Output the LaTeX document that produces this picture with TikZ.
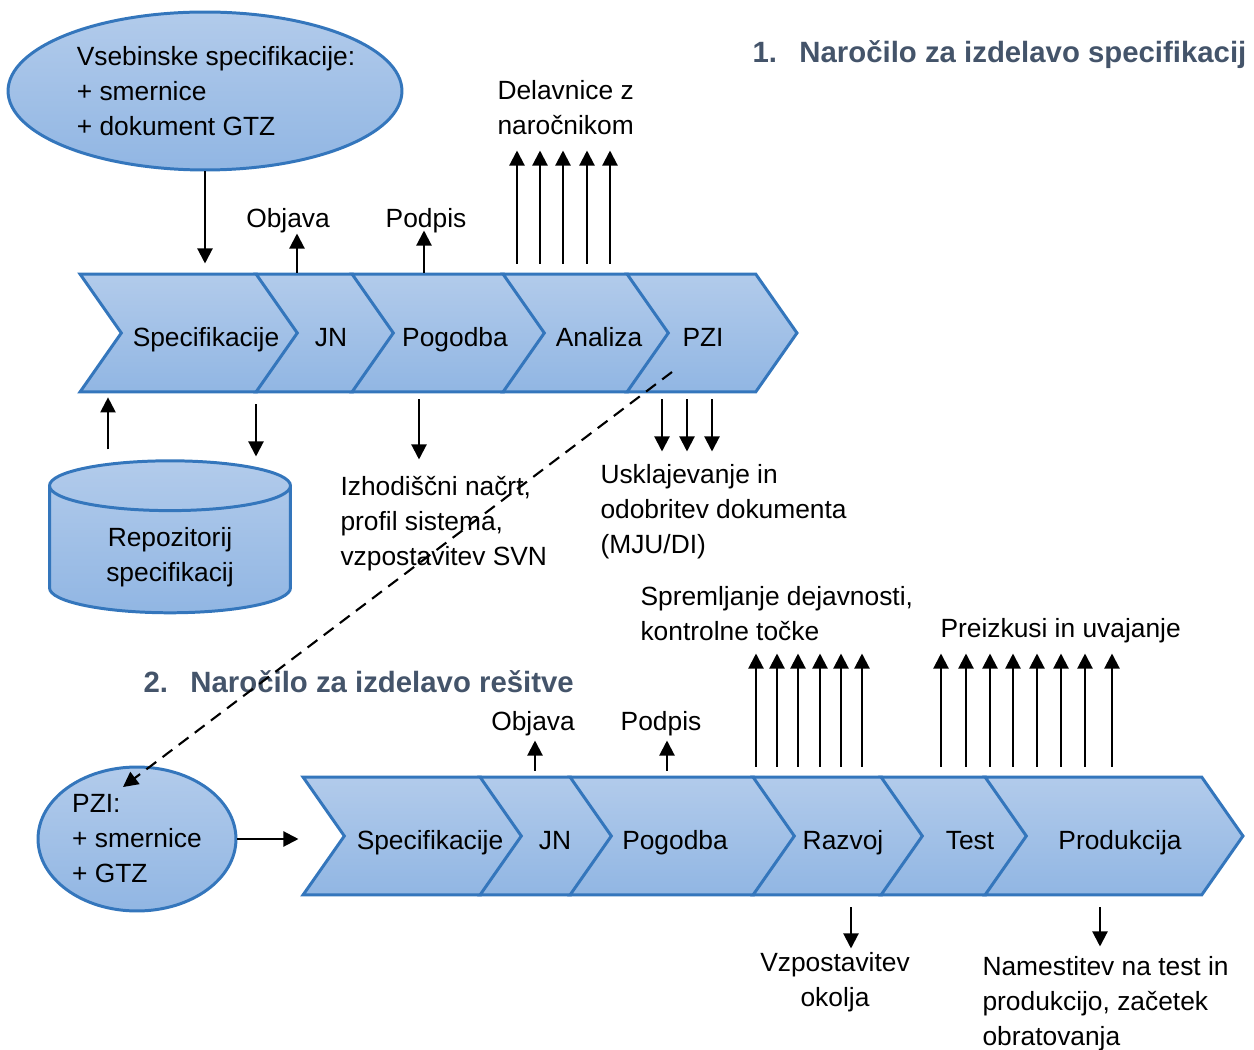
\documentclass[tikz,border=0pt]{standalone}
\usepackage{fontspec}
\setmainfont{Liberation Sans}
\usetikzlibrary{shapes.symbols,shapes.geometric,arrows.meta,positioning}
\definecolor{chevline}{RGB}{52,118,188}
\definecolor{chevtop}{RGB}{178,203,235}
\definecolor{chevbot}{RGB}{145,182,227}
\definecolor{titleblue}{RGB}{68,84,106}

\begin{document}
\begin{tikzpicture}[x=0.02cm,y=-0.02cm,semithick]
		 \tikzstyle{every node}=[font=\fontsize{15}{19.9}\selectfont, inner sep=0pt]
		 \tikzstyle{chev}=[signal, signal from=west, signal to=east, signal pointer angle=110, draw=chevline, line width=1.7pt, top color=chevtop, bottom color=chevbot, minimum height=2.36cm]
		 \tikzstyle{chevtxt}=[text height=15pt, text depth=0pt]
		 \tikzstyle{blob}=[ellipse, draw=chevline, line width=1.7pt, top color=chevtop, bottom color=chevbot, align=left]
		 \tikzstyle{arr}=[-{Triangle[length=0.3cm,width=0.3cm]}, line width=1.2pt]
		 \tikzstyle{txt}=[align=left]
		 \tikzstyle{title}=[font=\fontsize{16.7}{20}\selectfont\bfseries, text=titleblue]

		  \useasboundingbox (0,0) rectangle (1254,1050);

		  % 1. narocilo
		  \node[title, anchor=west] (nar1) at (752,55) {1.\hspace{0.45cm}Naročilo za izdelavo specifikacij};
		  \node[blob, minimum width=7.88cm, minimum height=3.16cm, label={[txt,xshift=0.22cm]center:Vsebinske specifikacije:\\+ smernice\\+ dokument GTZ}] (vseb) at (205,91) {};

		  \node[chev, minimum width=4.36cm, label={[chevtxt,xshift=0.34cm]center:Specifikacije}] (s1) at (189,333) {};
		  \node[chev, minimum width=2.76cm, label={[chevtxt,xshift=0.12cm]center:JN}]            (jn1)  at (325,333)   {};
		  \node[chev, minimum width=3.86cm, label={[chevtxt,xshift=0.13cm]center:Pogodba}]       (pog1) at (448.5,333) {};
		  \node[chev, minimum width=3.32cm, label={[chevtxt,xshift=0.26cm]center:Analiza}]       (ana1) at (586,333)   {};
		  \node[chev, minimum width=3.40cm, label={[chevtxt,xshift=-0.18cm]center:PZI}]          (pzi1) at (712,333)   {};

		  \node[cylinder, shape border rotate=90, aspect=0.4, draw=chevline, line width=1.7pt, top color=chevtop, bottom color=chevbot, minimum width=4.82cm, minimum height=3.04cm, label={[align=center,yshift=-0.14cm]center:Repozitorij\\specifikacij}] (repo) at (170,550) {\phantom{Repozitorij}};

		  \node (objava1) at (288,221) {Objava};
		  \node (podpis1) at (426,221) {Podpis};
		  \node[txt, anchor=west] (delav) at (497,108) {Delavnice z\\naročnikom};
		  \node[txt, anchor=west] (izhod) at (340,524) {Izhodiščni načrt,\\profil sistema,\\vzpostavitev SVN};
		  \node[txt, anchor=west] (uskl)  at (600,512) {Usklajevanje in\\odobritev dokumenta\\(MJU/DI)};

		  \draw[arr] (vseb.south) -- ++(0,92);
		  \draw[arr] (jn1.north -| 297,0) -- ++(0,-39);
		  \draw[arr] (pog1.north -| 424,0) -- ++(0,-42);
		  \foreach \x in {517,540,563,587,610}
		    \draw[arr] (ana1.north -| \x,0) ++(0,-9) -- ++(0,-113);
		  \draw[arr] (repo.north -| 108,0) ++(0,-10) -- ++(0,-52);
		  \draw[arr] (s1.south -| 256,0) ++(0,11) -- ++(0,52);
		  \draw[arr] (pog1.south -| 419,0) ++(0,6) -- ++(0,60);
		  \foreach \x in {662,687,712}
		    \draw[arr] (pzi1.south -| \x,0) ++(0,6) -- ++(0,52);

		  % 2. narocilo
		  \node[title, anchor=west] (nar2) at (143,682) {2.\hspace{0.45cm}Naročilo za izdelavo rešitve};
		  \node[blob, minimum width=3.96cm, minimum height=2.88cm] (pzi2) at (137,839) {PZI:\\+ smernice\\+ GTZ};

		  \node[chev, minimum width=4.38cm, label={[chevtxt,xshift=0.35cm]center:Specifikacije}] (s2) at (412.5,836) {};
		  \node[chev, minimum width=2.64cm, label={[chevtxt,xshift=0.18cm]center:JN}]            (jn2)   at (546,836)   {};
		  \node[chev, minimum width=4.50cm, label={[chevtxt,xshift=-0.15cm]center:Pogodba}]      (pog2)  at (682.5,836) {};
		  \node[chev, minimum width=3.40cm, label={[chevtxt,xshift=0.10cm]center:Razvoj}]        (raz2)  at (838,836)   {};
		  \node[chev, minimum width=2.92cm, label={[chevtxt,xshift=0.32cm]center:Test}]          (test2) at (954,836)   {};
		  \node[chev, minimum width=5.16cm, label={[chevtxt,xshift=0.12cm]center:Produkcija}]    (prod2) at (1114,836)  {};

		  \node (objava2) at (533,724) {Objava};
		  \node (podpis2) at (661,724) {Podpis};
		  \node[txt, anchor=west] (sprem) at (640,614) {Spremljanje dejavnosti,\\kontrolne točke};
		  \node[txt, anchor=west] (preiz) at (940,631) {Preizkusi in uvajanje};
		  \node[align=center] (okolje) at (835,982) {Vzpostavitev\\okolja};
		  \node[txt, anchor=west] (namest) at (982,1004) {Namestitev na test in\\produkcijo, začetek\\obratovanja};

		  \draw[arr] (pzi2.east) -- ++(61,0);
		  \draw[arr] (jn2.north -| 535,0) ++(0,-5) -- ++(0,-30);
		  \draw[arr] (pog2.north -| 667,0) ++(0,-5) -- ++(0,-30);
		  \foreach \x in {756,777,798,820,841,862}
		    \draw[arr] (raz2.north -| \x,0) ++(0,-9) -- ++(0,-113);
		  \foreach \x in {941,966,990,1013,1037,1061,1085,1112}
		    \draw[arr] (prod2.north -| \x,0) ++(0,-9) -- ++(0,-113);
		  \draw[arr] (raz2.south -| 851,0) ++(0,11) -- ++(0,41);
		  \draw[arr] (prod2.south -| 1100,0) ++(0,11) -- ++(0,39);

		  % PZI -> PZI
		  \coordinate (dashstart) at (672,372);
		  \coordinate (dashend) at (123,787);
		  \draw[arr, dash pattern=on 7pt off 4.5pt] (dashstart) -- (dashend);

		\end{tikzpicture}
\end{document}
